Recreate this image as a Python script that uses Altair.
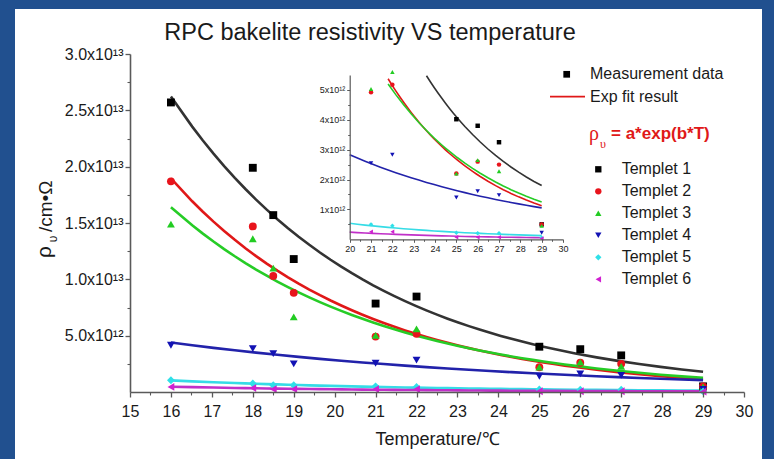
import altair as alt
import pandas as pd

# ---------------- data (units of 1e12 Ohm*cm) ----------------
temps = [16, 18, 18.5, 19, 21, 22, 25, 26, 27, 29]
templet1 = [25.7, 19.9, 15.7, 11.8, 7.85, 8.47, 4.02, 3.80, 3.25, 0.50]
templet2 = [18.7, 14.7, 10.3, 8.8, 4.92, 5.17, 2.20, 2.60, 2.50, 0.50]
templet3 = [14.9, 13.6, 11.0, 6.66, 5.03, 5.60, 2.20, 2.65, 2.28, 0.45]
templet4 = [4.15, 3.85, 3.40, 2.50, 2.55, 2.83, 1.40, 1.61, 1.48, 0.22]
templet5 = [1.04, 0.75, 0.60, 0.60, 0.50, 0.45, 0.22, 0.20, 0.20, 0.05]
templet6 = [0.45, 0.35, 0.25, 0.25, 0.25, 0.25, 0.07, 0.07, 0.07, 0.03]

templet_names = ["Templet 1", "Templet 2", "Templet 3", "Templet 4", "Templet 5", "Templet 6"]
marker_shapes = ["square", "circle", "triangle-up", "triangle-down", "diamond", "triangle-left"]
marker_colors = ["#000000", "#e8141c", "#22cc22", "#1212b4", "#30e0e8", "#d020d0"]
fit_colors = ["#333333", "#e01818", "#26cc26", "#2222aa", "#36dce6", "#c030c8"]

x_ticks_main = list(range(15, 31))
x_minor_main = [15.5, 16.5, 17.5, 18.5, 19.5, 20.5, 21.5, 22.5, 23.5, 24.5, 25.5, 26.5, 27.5, 28.5, 29.5]
y_ticks_main = [5, 10, 15, 20, 25, 30]
y_minor_main = [2.5, 7.5, 12.5, 17.5, 22.5, 27.5]
x_ticks_inset = list(range(20, 31))
x_minor_inset = [20.5, 21.5, 22.5, 23.5, 24.5, 25.5, 26.5, 27.5, 28.5, 29.5]
y_ticks_inset = [1, 2, 3, 4, 5]
y_minor_inset = [0.5, 1.5, 2.5, 3.5, 4.5]

series = [templet1, templet2, templet3, templet4, templet5, templet6]
rows = []
for name, vals in zip(templet_names, series):
    for t, v in zip(temps, vals):
        rows.append({"T": t, "rho": v, "templet": name})
df = pd.DataFrame(rows)
df_leg = pd.DataFrame({"templet": templet_names})

FONT = "Liberation Sans"
W, H = 614, 338
TXT = "#1a1a1a"
AX = "#5a5a5a"

# ---------------- scales ----------------
xs_main = alt.Scale(domain=[15, 30], nice=False, zero=False)
ys_main = alt.Scale(domain=[0, 30], nice=False, zero=False)
xs_inset = alt.Scale(domain=[20, 30], nice=False, zero=False, range=[219.7, 433])
ys_inset = alt.Scale(domain=[0, 5.5], nice=False, zero=False, range=[185.3, 21])
ys_legend = alt.Scale(type="point", domain=templet_names, range=[115.3, 225.3], padding=0)

fill_enc = alt.Fill("templet:N", scale=alt.Scale(domain=templet_names, range=marker_colors), legend=None)
shape_enc = alt.Shape("templet:N", scale=alt.Scale(domain=templet_names, range=marker_shapes), legend=None)
stroke_enc = alt.Stroke("templet:N", scale=alt.Scale(domain=templet_names, range=fit_colors), legend=None)

# ---------------- main axes ----------------
main_x_axis = alt.Axis(values=x_ticks_main, orient="bottom", labelFontSize=16, labelFont=FONT,
                       labelColor=TXT, tickSize=5, tickColor=AX, tickWidth=1.3, domainColor=AX,
                       domainWidth=1.6, grid=False, title="Temperature/\u2103", titleFontSize=18,
                       titleFont=FONT, titleFontWeight="normal", titleColor=TXT, titlePadding=11,
                       labelPadding=6, labelFlush=False, zindex=1)
main_y_axis = alt.Axis(values=y_ticks_main, orient="left", labelFontSize=16, labelFont=FONT,
                       labelColor=TXT, tickSize=5, tickColor=AX, tickWidth=1.3, domainColor=AX,
                       domainWidth=1.6, grid=False, title=None, labelPadding=2, labelFlush=False,
                       labelExpr="datum.value >= 10 ? format(datum.value/10, '.1f') + 'x10\u00b9\u00b3' : format(datum.value, '.1f') + 'x10\u00b9\u00b2'",
                       zindex=1)

main_points = alt.Chart(df).mark_point(filled=True, size=62, opacity=1, strokeWidth=0).encode(
    x=alt.X("T:Q", scale=xs_main, axis=main_x_axis),
    y=alt.Y("rho:Q", scale=ys_main, axis=main_y_axis),
    fill=fill_enc, shape=shape_enc,
)
main_lines = alt.Chart(df).transform_regression(
    "T", "rho", method="exp", groupby=["templet"], extent=[16, 29]
).mark_line(strokeWidth=2.6).encode(
    x=alt.X("T:Q", scale=xs_main, axis=main_x_axis),
    y=alt.Y("rho:Q", scale=ys_main, axis=main_y_axis),
    stroke=stroke_enc, detail="templet:N",
)
main = alt.layer(main_lines, main_points)

main_minor = alt.Chart(df).mark_point(opacity=0).encode(
    x=alt.X("T:Q", scale=xs_main, axis=alt.Axis(values=x_minor_main, orient="bottom", labels=False,
                                               domain=False, tickSize=3, tickColor=AX, tickWidth=1.1,
                                               grid=False, title=None, zindex=1)),
    y=alt.Y("rho:Q", scale=ys_main, axis=alt.Axis(values=y_minor_main, orient="left", labels=False,
                                                 domain=False, tickSize=3, tickColor=AX, tickWidth=1.1,
                                                 grid=False, title=None, zindex=1)),
)

# ---------------- inset ----------------
OFF_X = -(H - 185.3)
OFF_Y = -219.7
inset_x_axis = alt.Axis(values=x_ticks_inset, orient="bottom", offset=OFF_X, labelFontSize=9,
                        labelFont=FONT, labelColor=TXT, tickSize=3, tickColor=AX, tickWidth=1,
                        domainColor=AX, domainWidth=1.2, grid=False, title=None, labelPadding=2,
                        labelFlush=False, zindex=1)
inset_y_axis = alt.Axis(values=y_ticks_inset, orient="left", offset=OFF_Y, labelFontSize=9,
                        labelFont=FONT, labelColor=TXT, tickSize=3, tickColor=AX, tickWidth=1,
                        domainColor=AX, domainWidth=1.2, grid=False, title=None, labelPadding=2,
                        labelFlush=False, labelExpr="format(datum.value, 'd') + 'x10\u00b9\u00b2'",
                        zindex=1)
inset_points = alt.Chart(df).transform_filter("datum.T >= 20 && datum.rho <= 5.7").mark_point(
    filled=True, size=20, opacity=1, strokeWidth=0).encode(
    x=alt.X("T:Q", scale=xs_inset, axis=inset_x_axis),
    y=alt.Y("rho:Q", scale=ys_inset, axis=inset_y_axis),
    fill=fill_enc, shape=shape_enc,
)
inset_lines = alt.Chart(df).transform_regression(
    "T", "rho", method="exp", groupby=["templet"], extent=[20, 29]
).transform_filter("datum.rho <= 5.5").mark_line(strokeWidth=1.6).encode(
    x=alt.X("T:Q", scale=xs_inset, axis=inset_x_axis),
    y=alt.Y("rho:Q", scale=ys_inset, axis=inset_y_axis),
    stroke=stroke_enc, detail="templet:N",
)
inset = alt.layer(inset_lines, inset_points)

inset_minor = alt.Chart(df).mark_point(opacity=0).encode(
    x=alt.X("T:Q", scale=xs_inset, axis=alt.Axis(values=x_minor_inset, orient="bottom", offset=OFF_X,
                                                labels=False, domain=False, tickSize=2, tickColor=AX,
                                                grid=False, title=None, zindex=1)),
    y=alt.Y("rho:Q", scale=ys_inset, axis=alt.Axis(values=y_minor_inset, orient="left", offset=OFF_Y,
                                                  labels=False, domain=False, tickSize=2, tickColor=AX,
                                                  grid=False, title=None, zindex=1)),
)

# ---------------- templet legend (drawn through its own point scale) ----------------
leg_sym = alt.Chart(df_leg).mark_point(filled=True, size=40, opacity=1, strokeWidth=0).encode(
    x=alt.value(468.3),
    y=alt.Y("templet:N", scale=ys_legend, axis=None),
    fill=fill_enc, shape=shape_enc,
)
leg_txt = alt.Chart(df_leg).mark_text(align="left", baseline="middle", fontSize=16, font=FONT,
                                      color=TXT).encode(
    x=alt.value(491.7),
    y=alt.Y("templet:N", scale=ys_legend, axis=None),
    text="templet:N",
)
legend = alt.layer(leg_sym, leg_txt)

# ---------------- decorations / annotations ----------------
one = pd.DataFrame({"k": [0]})
panel = alt.Chart(one).mark_rect(color="white").encode(
    x=alt.value(-115), x2=alt.value(632), y=alt.value(-45), y2=alt.value(420))


def label(text, x, y, size, color=TXT, weight="normal", font=FONT, align="left", angle=0,
          baseline="middle"):
    return alt.Chart(one).mark_text(text=text, fontSize=size, color=color, fontWeight=weight,
                                    font=font, align=align, baseline=baseline, angle=angle).encode(
        x=alt.value(x), y=alt.value(y))


title = label("RPC bakelite resistivity VS temperature", 240, -21, 23.5, align="center")
ytitle_rho = label("\u03c1", -85, 198, 21, angle=270, align="center")
ytitle_sub = label("\u03c5", -77, 185, 12, angle=270, align="center")
ytitle_rest = label("/cm\u2022\u03a9", -84, 178, 19, angle=270, align="left")

meas_sym = alt.Chart(one).mark_point(shape="square", filled=True, size=45, color="black", opacity=1).encode(
    x=alt.value(436.7), y=alt.value(20.3))
meas_txt = label("Measurement data", 460, 20.3, 16)
fit_line = alt.Chart(one).mark_rule(color="#e01818", strokeWidth=1.8).encode(
    x=alt.value(420), x2=alt.value(455), y=alt.value(42.7))
fit_txt = label("Exp fit result", 460, 42.7, 16)
f_rho = label("\u03c1", 459, 80, 20, color="#e01818", font="Liberation Serif")
f_sub = label("\u03c5", 470, 90, 12, color="#e01818", font="Liberation Serif")
f_rest = label("= a*exp(b*T)", 481, 80, 17, color="#e01818", weight="bold")

chart = alt.layer(
    panel, title, ytitle_rho, ytitle_sub, ytitle_rest,
    main_minor, main, inset_minor, inset, legend,
    meas_sym, meas_txt, fit_line, fit_txt, f_rho, f_sub, f_rest,
).resolve_scale(x="independent", y="independent").properties(
    width=W, height=H,
    autosize=alt.AutoSizeParams(type="none"),
    padding={"left": 130, "top": 54, "right": 30, "bottom": 67},
    background="#21508f",
).configure_view(stroke=None).configure(font=FONT)

chart.save("out.html", embed_options={"renderer": "svg", "actions": False})
